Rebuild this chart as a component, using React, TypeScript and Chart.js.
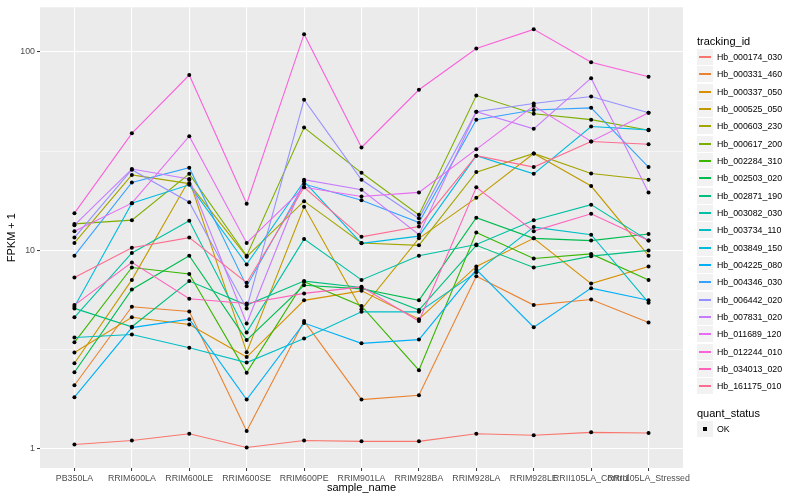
import React, { useEffect, useRef } from "react";
import { Chart, registerables } from "chart.js";

Chart.register(...registerables);

const sampleNames = [
  "PB350LA", "RRIM600LA", "RRIM600LE", "RRIM600SE", "RRIM600PE", "RRIM901LA",
  "RRIM928BA", "RRIM928LA", "RRIM928LE", "RRII105LA_Control", "RRII105LA_Stressed",
];

const trackingIds = [
  "Hb_000174_030", "Hb_000331_460", "Hb_000337_050", "Hb_000525_050", "Hb_000603_230",
  "Hb_000617_200", "Hb_002284_310", "Hb_002503_020", "Hb_002871_190", "Hb_003082_030",
  "Hb_003734_110", "Hb_003849_150", "Hb_004225_080", "Hb_004346_030", "Hb_006442_020",
  "Hb_007831_020", "Hb_011689_120", "Hb_012244_010", "Hb_034013_020", "Hb_161175_010",
];

const seriesColors = [
  "#F8766D", "#EA8331", "#D89000", "#C09B00", "#A3A500", "#7CAE00", "#39B600", "#00BB4E",
  "#00BF7D", "#00C1A3", "#00BFC4", "#00BAE0", "#00B0F6", "#35A2FF", "#9590FF", "#C77CFF",
  "#E76BF3", "#FA62DB", "#FF62BC", "#FF6C91",
];

const hb000174030 = [1.05, 1.1, 1.19, 1.015, 1.1, 1.09, 1.09, 1.19, 1.17, 1.21, 1.2];
const hb000331460 = [2.09, 5.2, 4.92, 1.23, 4.4, 1.77, 1.86, 7.4, 5.3, 5.65, 4.33];
const hb000337050 = [3.06, 4.6, 4.23, 2.9, 5.6, 6.25, 4.5, 8.3, 11.5, 6.8, 8.3];
const hb000525050 = [2.7, 7.1, 22.7, 3.07, 16.6, 5.05, 11.5, 18.4, 30.8, 21.1, 9.4];
const hb000603230 = [10.9, 24.0, 21.7, 9.3, 17.7, 10.9, 10.6, 24.8, 30.8, 24.4, 22.7];
const hb000617200 = [13.6, 14.2, 24.3, 9.4, 41.6, 24.6, 15.1, 60.3, 48.8, 45.6, 40.3];
const hb002284310 = [3.44, 8.2, 7.6, 2.42, 6.95, 5.25, 2.49, 12.3, 9.1, 9.6, 7.1];
const hb002503020 = [2.43, 6.35, 9.4, 3.53, 6.67, 6.4, 5.6, 14.6, 11.5, 11.2, 12.1];
const hb002871190 = [5.1, 4.12, 7.0, 5.3, 7.0, 6.5, 5.0, 10.6, 8.2, 9.35, 10.0];
const hb003082030 = [4.6, 9.7, 14.1, 3.86, 11.4, 7.1, 9.4, 10.7, 14.2, 17.0, 11.2];
const hb003734110 = [3.64, 3.77, 3.23, 2.72, 3.6, 4.9, 4.9, 7.75, 13.1, 12.0, 5.45];
const hb003849150 = [5.2, 17.3, 21.4, 8.5, 22.3, 10.85, 11.8, 30.0, 24.3, 42.1, 40.5];
const hb004225080 = [1.82, 4.08, 4.5, 1.77, 4.3, 3.4, 3.55, 8.0, 4.1, 6.45, 5.6];
const hb004346030 = [9.4, 22.0, 26.1, 6.6, 21.6, 17.9, 13.8, 45.5, 51, 52.3, 26.3];
const hb006442020 = [11.6, 25.5, 17.5, 5.1, 57.5, 22.7, 14.5, 50, 55, 59.6, 49.4];
const hb007831020 = [13.4, 25.7, 22.9, 4.28, 22.7, 20.2, 12.0, 50, 41, 73.8, 19.6];
const hb011689120 = [12.5, 17.3, 37.6, 10.9, 20.8, 18.7, 19.6, 32.3, 53.5, 35.4, 49.4];
const hb012244010 = [15.4, 38.9, 76.5, 17.2, 123, 33.0, 64.5, 104, 130, 88.8, 75.0];
const hb034013020 = [5.3, 8.7, 5.7, 5.4, 6.07, 6.55, 4.4, 20.8, 12.5, 15.3, 11.2];
const hb161175010 = [7.3, 10.3, 11.6, 6.87, 20.8, 11.7, 13.2, 30.0, 26.3, 35.4, 34.3];

const seriesValues = [
  hb000174030, hb000331460, hb000337050, hb000525050, hb000603230,
  hb000617200, hb002284310, hb002503020, hb002871190, hb003082030,
  hb003734110, hb003849150, hb004225080, hb004346030, hb006442020,
  hb007831020, hb011689120, hb012244010, hb034013020, hb161175010,
];

const yMajorTicks = [1, 10, 100];
const yMinorTicks = [3.1623, 31.623];
const quantStatus = ["OK"];

const FONT = "'Liberation Sans', Arial, Helvetica, sans-serif";

const isMajor = (v: number) => yMajorTicks.some((m) => Math.abs(m - v) / m < 1e-6);

const panelBg = {
  id: "panelBg",
  beforeDraw(chart: any) {
    const { ctx, chartArea } = chart;
    if (!chartArea) return;
    ctx.save();
    ctx.fillStyle = "#EBEBEB";
    ctx.fillRect(chartArea.left, chartArea.top, chartArea.right - chartArea.left, chartArea.bottom - chartArea.top);
    ctx.restore();
  },
};

function ChartCanvas() {
  const ref = useRef<HTMLCanvasElement | null>(null);
  useEffect(() => {
    if (!ref.current) return;
    const lineSets = seriesValues.map((vals, i) => ({
      label: trackingIds[i],
      data: vals.map((v, j) => ({ x: j, y: v })),
      showLine: true,
      borderColor: seriesColors[i],
      backgroundColor: seriesColors[i],
      borderWidth: 1.1,
      pointRadius: 0,
      order: 100 - i,
    }));
    const pointSet = {
      label: "points",
      data: seriesValues.flatMap((vals) => vals.map((v, j) => ({ x: j, y: v }))),
      showLine: false,
      pointRadius: 2,
      pointBackgroundColor: "#000000",
      pointBorderWidth: 0,
      pointStyle: "circle",
      order: -1,
    };
    const chart = new Chart(ref.current, {
      type: "scatter",
      data: { datasets: [...lineSets, pointSet] as any },
      plugins: [panelBg],
      options: {
        animation: false,
        responsive: true,
        maintainAspectRatio: false,
        layout: { padding: { top: 5, right: 117, left: 0, bottom: 0 } },
        plugins: { legend: { display: false }, tooltip: { enabled: false } },
        scales: {
          x: {
            type: "linear",
            min: -0.6,
            max: 10.6,
            bounds: "data",
            afterBuildTicks: (scale: any) => {
              scale.ticks = sampleNames.map((_, i) => ({ value: i }));
            },
            afterFit: (scale: any) => {
              scale.height = 32;
            },
            ticks: {
              autoSkip: false,
              maxRotation: 0,
              minRotation: 0,
              padding: 2,
              color: "#4D4D4D",
              font: { family: FONT, size: 8.8 },
              callback: (v: any) => sampleNames[Math.round(Number(v))] ?? "",
            },
            grid: {
              color: "#FFFFFF",
              lineWidth: 1.07,
              drawTicks: true,
              tickLength: 3,
              tickColor: "#333333",
              tickWidth: 1,
            },
            border: { display: false },
            title: {
              display: true,
              text: "sample_name",
              color: "#000000",
              font: { family: FONT, size: 11 },
              padding: { top: 0, bottom: 5.4 },
            },
          },
          y: {
            type: "logarithmic",
            min: 0.8,
            max: 168,
            bounds: "data",
            afterBuildTicks: (scale: any) => {
              scale.ticks = [...yMajorTicks, ...yMinorTicks].sort((a, b) => a - b).map((v) => ({ value: v }));
            },
            afterFit: (scale: any) => {
              scale.width = 40;
            },
            ticks: {
              padding: 2,
              color: "#4D4D4D",
              font: { family: FONT, size: 8.8 },
              callback: (v: any) => (isMajor(Number(v)) ? String(Number(v)) : ""),
            },
            grid: {
              color: "#FFFFFF",
              lineWidth: (ctx: any) => (ctx.tick && isMajor(ctx.tick.value) ? 1.07 : 0.53),
              drawTicks: true,
              tickLength: 3,
              tickColor: (ctx: any) => (ctx.tick && isMajor(ctx.tick.value) ? "#333333" : "rgba(0,0,0,0)"),
              tickWidth: 1,
            },
            border: { display: false },
            title: {
              display: true,
              text: "FPKM + 1",
              color: "#000000",
              font: { family: FONT, size: 11 },
              padding: { top: 5.4, bottom: 0 },
            },
          },
        },
      } as any,
    });
    return () => chart.destroy();
  }, []);
  return <canvas ref={ref} />;
}

function Legend() {
  const step = 17.33;
  const first = 57;
  return (
    <div style={{ position: "absolute", left: 0, top: 0, width: 800, height: 500, pointerEvents: "none", fontFamily: FONT }}>
      <div style={{ position: "absolute", left: 697, top: 34, fontSize: 11, lineHeight: "14px", color: "#000" }}>tracking_id</div>
      {trackingIds.map((id, i) => {
        const cy = Math.round(first + i * step);
        return (
          <React.Fragment key={id}>
            <div style={{ position: "absolute", left: 697, top: cy - 8, width: 16, height: 16, background: "#F2F2F2" }}>
              <div style={{ position: "absolute", left: 2, top: 7, width: 12, height: 2, background: seriesColors[i] }} />
            </div>
            <div style={{ position: "absolute", left: 717, top: cy - 6, fontSize: 8.8, lineHeight: "12px", color: "#000", whiteSpace: "nowrap" }}>{id}</div>
          </React.Fragment>
        );
      })}
      <div style={{ position: "absolute", left: 697, top: 406, fontSize: 11, lineHeight: "14px", color: "#000" }}>quant_status</div>
      {quantStatus.map((q, i) => {
        const cy = Math.round(429 + i * step);
        return (
          <React.Fragment key={q}>
            <div style={{ position: "absolute", left: 697, top: cy - 8, width: 16, height: 16, background: "#F2F2F2" }}>
              <div style={{ position: "absolute", left: 6, top: 6, width: 4, height: 4, background: "#000" }} />
            </div>
            <div style={{ position: "absolute", left: 717, top: cy - 6, fontSize: 8.8, lineHeight: "12px", color: "#000" }}>{q}</div>
          </React.Fragment>
        );
      })}
    </div>
  );
}

export default function App() {
  return (
    <div style={{ position: "fixed", left: 0, top: 0, width: 800, height: 500, background: "#FFFFFF" }}>
      <div style={{ position: "absolute", left: 0, top: 0, width: 800, height: 500 }}>
        <ChartCanvas />
      </div>
      <Legend />
    </div>
  );
}
